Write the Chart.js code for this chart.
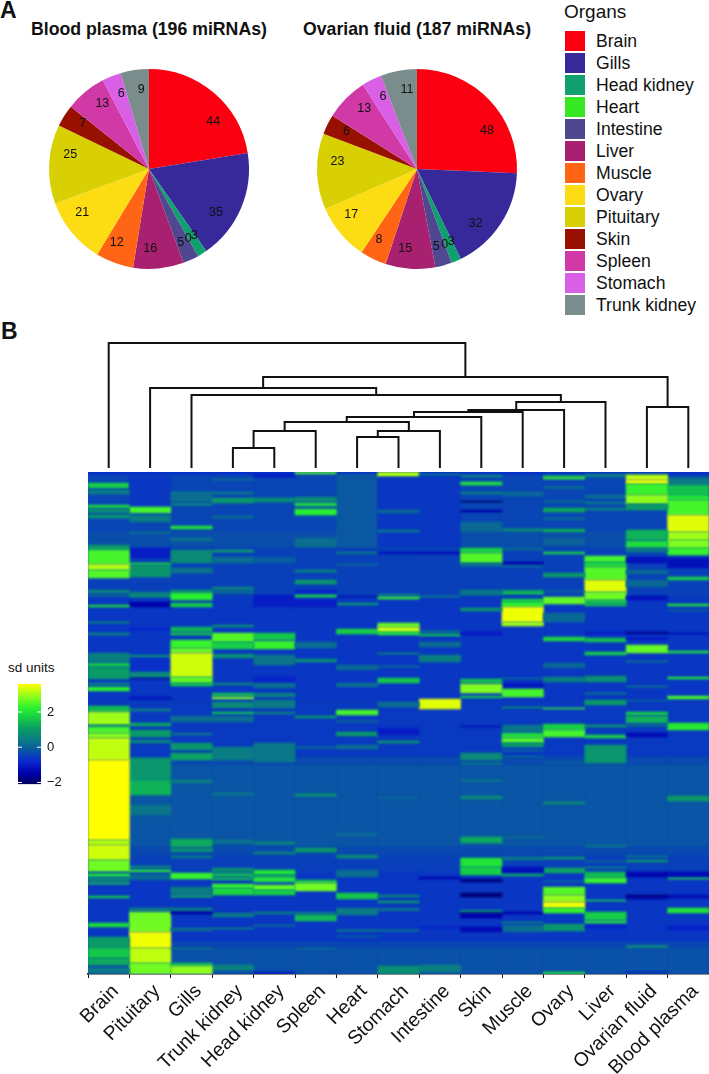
<!DOCTYPE html>
<html>
<head>
<meta charset="utf-8">
<title>miRNA organs</title>
<script src="https://cdn.jsdelivr.net/npm/chart.js@4"></script>
<style>
    html, body { margin: 0; padding: 0; background: #fff; }
    body { position: relative; width: 709px; height: 1074px; overflow: hidden; font-family: "Liberation Sans", Arial, sans-serif; color: #111; }
    canvas { position: absolute; }
    .txt { position: absolute; white-space: nowrap; }
    .panel { font-weight: bold; font-size: 23px; line-height: 23px; }
    .title { font-weight: bold; font-size: 17.7px; line-height: 20px; top: 19px; }
    .swatch { position: absolute; left: 565px; width: 20px; height: 20px; }
    .org { position: absolute; left: 596px; font-size: 17.6px; line-height: 20px; }
</style>
</head>
<body>
<div class="txt panel" style="left:0;top:-1px">A</div>
<div class="txt panel" style="left:1px;top:320px">B</div>
<div class="txt title" style="left:31px">Blood plasma (196 miRNAs)</div>
<div class="txt title" style="left:303px">Ovarian fluid (187 miRNAs)</div>
<div class="txt" style="left:564px;top:1px;font-size:19px;line-height:22px">Organs</div>
<div id="legendBox"></div>
<div class="txt" style="left:8px;top:660px;font-size:13.5px;line-height:16px">sd units</div>

<canvas id="bloodPie" width="210" height="210" style="left:44px;top:64px"></canvas>
<canvas id="ovarianPie" width="210" height="210" style="left:312px;top:64px"></canvas>
<canvas id="treeChart" width="621" height="130" style="left:88px;top:340px"></canvas>
<canvas id="heatChart" width="709" height="602" style="left:0;top:472px"></canvas>
<canvas id="scaleChart" width="90" height="128" style="left:0;top:670px"></canvas>

<script>
// Pie data
const organs = ["Brain", "Gills", "Head kidney", "Heart", "Intestine", "Liver", "Muscle", "Ovary", "Pituitary", "Skin", "Spleen", "Stomach", "Trunk kidney"];
const organColors = ["#fb0010", "#37299a", "#109f6f", "#36e822", "#4f4890", "#a82070", "#ff6515", "#fcdc12", "#d9d003", "#971000", "#d13aa6", "#d95fe6", "#7a8c8c"];
const bloodCounts = [44, 35, 3, 0, 5, 16, 12, 21, 25, 7, 13, 6, 9];
const ovarianCounts = [48, 32, 3, 0, 5, 15, 8, 17, 23, 6, 13, 6, 11];

// Heatmap columns, left to right
const heatLabels = ["Brain", "Pituitary", "Gills", "Trunk kidney", "Head kidney", "Spleen", "Heart", "Stomach", "Intestine", "Skin", "Muscle", "Ovary", "Liver", "Ovarian fluid", "Blood plasma"];

// Dendrogram, hclust style: negative = leaf, positive = earlier merge (1 based)
const mergeLeft = [-4, -7, 1, 2, 3, 5, 6, 7, 8, -3, -2, -14, 11, -1];
const mergeRight = [-5, -8, -6, -9, 4, -10, -11, -12, -13, 9, 10, -15, 12, 13];
const mergeHeights = [20, 31, 37, 37, 46, 51, 56, 58, 66, 73, 80, 61, 91, 125];

// Colour scale
const sdStops = [-2.1, -1.5, -0.8, -0.2, 0.4, 1, 1.6, 2.2, 2.8, 3.6];
const sdColors = [[0, 0, 90], [0, 0, 170], [8, 40, 208], [10, 85, 165], [10, 122, 133], [10, 154, 104], [20, 200, 74], [40, 240, 48], [128, 252, 32], [255, 255, 0]];
const sdTicks = [-2, 0, 2];

// Rows are counted from the top of the heatmap. Each band is [first row, last row, sd]
const rowCount = 502;
const rowBase = [[0, 3, -0.8], [3, 60, -0.42], [60, 76, -0.3], [76, 125, -0.48], [125, 135, -0.6], [135, 230, -0.62], [230, 285, -0.58], [285, 293, -0.36], [293, 375, -0.2], [375, 384, -0.36], [384, 400, -0.5], [400, 470, -0.62], [470, 476, -0.4], [476, 502, -0.25]];

const brainBands = [[11, 16, 1.7], [18, 22, 0.5], [33, 36, 1.9], [36, 41, 0.7], [43, 46, 1.0], [73, 78, 1.0], [78, 92, 2.4], [92, 98, 3.1], [98, 106, 2.5], [118, 121, 0.6], [123, 124, 0.5], [133, 135, 1.8], [150, 151, 1.0], [161, 163, 0.6], [181, 190, 0.5], [191, 195, 1.6], [195, 207, 1.0], [211, 213, 0.7], [215, 219, 2.2], [234, 240, 1.4], [240, 253, 3.0], [253, 255, 0.8], [255, 261, 2.4], [261, 266, 2.8], [266, 288, 3.2], [288, 368, 3.6], [368, 373, 3.1], [373, 388, 3.3], [388, 400, 2.7], [400, 402, 0.3], [402, 405, 2.1], [405, 410, 0.5], [411, 412, 1.9], [424, 426, 1.6], [451, 455, 1.9], [465, 476, 1.0], [476, 486, 1.6], [486, 493, 1.2], [496, 501, 0.4]];
const pituitaryBands = [[3, 35, -0.6], [35, 41, 2.4], [43, 50, 0.4], [60, 61, 0.5], [76, 86, -1.0], [91, 93, 1.8], [93, 105, 0.9], [120, 123, 0.5], [123, 125, 1.0], [130, 135, -1.5], [156, 158, -0.9], [183, 186, 0.6], [186, 200, -0.7], [200, 206, 0.7], [206, 207, -1.6], [225, 227, -1.2], [237, 239, 0.5], [251, 254, 1.2], [258, 265, 1.0], [268, 271, 0.6], [286, 308, 0.9], [308, 323, 1.3], [333, 343, 0.3], [394, 396, 0.7], [398, 400, 2.2], [402, 408, 0.1], [436, 439, 0.5], [440, 460, 2.7], [460, 476, 3.5], [476, 491, 3.2], [491, 502, 2.7]];
const gillsBands = [[20, 22, 0.5], [22, 30, 0.2], [32, 33, 1.2], [54, 57, 2.0], [66, 69, 0.3], [78, 91, 0.7], [96, 101, 0.3], [118, 121, 0.8], [121, 128, 2.2], [131, 135, 1.6], [155, 160, 1.3], [161, 163, 1.7], [168, 176, 2.3], [176, 181, 2.6], [181, 205, 3.3], [205, 211, 2.6], [211, 214, 1.6], [244, 250, 0.2], [261, 263, 0.3], [271, 278, 0.9], [281, 288, 1.1], [308, 311, 0.5], [367, 375, 1.2], [376, 380, 0.8], [384, 386, 0.4], [401, 407, 2.3], [415, 423, 0.4], [424, 425, 1.8], [436, 439, 0.5], [440, 442, -1.6], [456, 459, 0.2], [476, 477, 0.4], [491, 494, 1.5], [494, 502, 2.9]];
const trunkBands = [[7, 8, 0.4], [20, 22, 0.4], [26, 31, 1.0], [44, 46, 0.2], [78, 80, 1.1], [85, 91, 0.2], [115, 118, 0.5], [119, 121, 0.3], [153, 155, 0.8], [161, 170, 2.5], [170, 177, 1.7], [182, 186, 0.8], [211, 213, 0.6], [221, 224, 1.4], [225, 227, 2.8], [230, 236, 0.7], [240, 242, 1.5], [244, 250, 0.2], [275, 288, 0.45], [321, 323, 0.4], [368, 371, 0.3], [396, 400, 0.8], [401, 405, 1.3], [406, 408, 1.5], [412, 416, 2.3], [416, 423, 1.8], [441, 445, 0.4], [456, 457, 0.8], [493, 498, 0.6]];
const headBands = [[2, 5, -1.0], [26, 30, 0.8], [85, 91, -0.1], [123, 135, -1.0], [161, 168, 1.6], [169, 177, 2.3], [183, 193, 0.3], [205, 211, -0.9], [211, 216, 0.2], [221, 225, 0.5], [228, 236, 0.4], [240, 242, 0.5], [271, 290, 0.35], [370, 372, 0.7], [380, 382, 0.6], [398, 403, 2.0], [403, 405, 1.0], [405, 410, 2.0], [413, 418, 2.6], [418, 423, 1.7], [440, 442, 0.5], [453, 454, 0.5], [500, 502, -1.1]];
const spleenBands = [[0, 2, 2.5], [25, 30, 0.7], [31, 34, 1.9], [37, 43, 2.2], [66, 75, 0.2], [98, 100, 0.7], [108, 112, 1.0], [118, 121, -0.9], [123, 125, 1.9], [128, 135, -1.0], [170, 176, 0.2], [187, 190, 0.8], [244, 246, 1.0], [275, 276, 0.5], [322, 324, 1.0], [376, 380, 1.0], [408, 411, 1.6], [411, 419, 2.7], [440, 443, 0.3], [443, 449, 1.4], [476, 477, 0.2]];
const heartBands = [[2, 75, -0.15], [80, 82, 0.3], [92, 93, 0.3], [124, 125, -1.3], [131, 133, 0.9], [157, 162, 1.7], [193, 198, 0.1], [211, 215, 0.2], [238, 243, 2.4], [249, 250, 0.3], [260, 264, 1.0], [273, 277, 0.2], [361, 364, 0.1], [383, 386, 0.8], [398, 405, 0.2], [421, 427, 1.6], [436, 443, 0.4], [458, 459, 0.9], [464, 465, 0.1]];
const stomachBands = [[0, 5, 3.1], [5, 75, -0.6], [38, 41, 0.1], [58, 60, 0.4], [80, 82, -1.2], [122, 124, 0.4], [125, 127, 2.3], [151, 155, 2.6], [155, 160, 3.2], [160, 163, 2.0], [181, 182, 0.8], [194, 195, 0.4], [206, 211, 1.6], [230, 235, 0.2], [256, 263, -1.0], [269, 271, 1.0], [325, 326, 0.2], [423, 425, 0.6], [429, 431, 1.0], [436, 439, 0.2], [458, 459, 0.7], [494, 502, 0.8]];
const intestineBands = [[2, 4, 0.4], [4, 75, -0.6], [80, 82, -1.3], [124, 125, 0.7], [159, 160, 0.8], [162, 164, 1.5], [170, 175, 0.2], [183, 190, 0.5], [227, 237, 3.4], [405, 407, -1.4], [455, 456, -1.0], [493, 500, 0.5]];
const skinBands = [[3, 5, 0.6], [10, 13, 2.0], [20, 22, 0.5], [29, 30, -2.0], [38, 40, -1.5], [50, 60, 0.1], [76, 81, 1.7], [81, 91, 2.5], [91, 94, 0.4], [118, 122, 0.4], [120, 123, 0.3], [136, 139, 0.9], [160, 163, -1.1], [207, 211, 1.5], [212, 221, 2.8], [224, 226, 1.5], [254, 255, -1.3], [281, 288, 0.7], [291, 292, 0.8], [308, 309, 0.6], [324, 327, 0.7], [365, 371, 1.2], [386, 395, 2.0], [395, 403, 1.7], [407, 410, -1.8], [421, 425, -1.9], [438, 441, 0.6], [441, 442, -2.1], [442, 446, -1.5], [455, 460, -1.3]];
const muscleBands = [[20, 24, 0.1], [57, 59, 1.0], [76, 78, 0.2], [90, 92, -1.5], [94, 95, 0.3], [118, 121, 0.8], [120, 122, 1.6], [127, 130, 1.7], [130, 135, 2.2], [135, 150, 3.5], [150, 154, 3.0], [206, 207, 0.2], [211, 216, -1.1], [217, 225, 2.4], [235, 236, 1.0], [253, 260, 0.3], [261, 266, 1.9], [266, 271, 2.5], [271, 275, 1.0], [278, 279, 0.2], [284, 285, 0.2], [365, 366, 0.3], [385, 388, 0.4], [395, 401, -1.2], [402, 404, 1.2], [440, 442, -1.5], [450, 451, 1.0], [453, 460, 0.2]];
const ovaryBands = [[3, 5, 0.6], [5, 7, 2.3], [15, 16, 0.6], [29, 30, 0.5], [36, 40, 1.2], [46, 47, 0.5], [57, 60, 1.2], [66, 73, 0.0], [80, 82, 1.7], [101, 105, 1.0], [119, 120, 0.2], [125, 132, 2.6], [141, 150, 0.1], [165, 169, 1.8], [191, 196, 0.1], [205, 210, 0.5], [236, 237, 2.3], [252, 258, 1.7], [258, 265, 2.4], [290, 291, 0.2], [330, 332, 0.8], [385, 387, 1.0], [396, 401, 1.1], [409, 410, 0.3], [415, 423, 2.5], [423, 430, 2.9], [430, 436, 3.5], [436, 441, 2.3], [452, 459, 0.9], [500, 502, 1.9]];
const liverBands = [[2, 5, 0.5], [23, 26, 0.2], [30, 32, 0.4], [36, 38, 0.6], [84, 90, 2.4], [90, 95, 1.8], [95, 108, 2.5], [108, 120, 3.4], [120, 128, 2.7], [128, 131, 1.8], [131, 134, 1.4], [160, 162, -1.0], [166, 170, 1.5], [180, 183, 1.7], [204, 210, 0.8], [221, 222, 0.7], [228, 233, 1.0], [253, 255, 1.0], [263, 266, 1.8], [273, 291, 0.9], [373, 375, 0.3], [389, 390, 0.2], [395, 396, 0.7], [400, 406, 1.4], [406, 411, 2.3], [428, 429, 1.8], [440, 448, 1.7], [449, 451, 2.2], [454, 456, -1.0]];
const ovarianBands = [[2, 3, 0.6], [3, 8, 3.2], [8, 12, 3.5], [12, 23, 2.3], [23, 32, 2.9], [32, 38, 1.0], [58, 68, 1.3], [69, 76, 1.9], [76, 80, 0.4], [85, 91, -1.2], [98, 102, 0.1], [108, 115, 0.1], [124, 128, -1.2], [160, 162, -1.7], [165, 168, -1.0], [173, 181, 2.6], [189, 190, 0.5], [214, 215, 0.5], [228, 229, 0.2], [240, 243, 1.7], [244, 251, 1.3], [253, 254, 0.7], [261, 265, -1.3], [384, 385, 0.6], [388, 390, 0.9], [400, 405, -1.4], [423, 426, -1.8], [426, 427, -1.4], [474, 475, 1.5], [500, 501, -1.0]];
const plasmaBands = [[6, 13, 0.4], [13, 23, 1.5], [23, 28, 2.0], [28, 43, 2.4], [43, 60, 3.4], [60, 68, 3.0], [68, 76, 2.8], [76, 83, 2.3], [86, 96, -1.2], [105, 108, 1.7], [132, 134, 2.0], [138, 139, 0.1], [161, 162, -1.4], [179, 181, 2.0], [205, 207, 2.0], [224, 227, 2.4], [251, 258, 2.1], [324, 329, 1.0], [400, 405, -1.3], [406, 407, 2.0], [423, 426, -1.3], [436, 441, 2.0], [454, 458, -1.0]];

const heatColumns = [brainBands, pituitaryBands, gillsBands, trunkBands, headBands, spleenBands, heartBands, stomachBands, intestineBands, skinBands, muscleBands, ovaryBands, liverBands, ovarianBands, plasmaBands];

/**
 * SD VALUE TO COLOUR
 */
function sdColor(v) {
    let i = 0;
    while (i < sdStops.length - 2 && v > sdStops[i + 1]) i++;
    const t = Math.min(1, Math.max(0, (v - sdStops[i]) / (sdStops[i + 1] - sdStops[i])));
    const c = sdColors[i].map((a, k) => Math.round(a + (sdColors[i + 1][k] - a) * t));
    return `rgb(${c[0]},${c[1]},${c[2]})`;
}

// Writes the count on each slice. In the source they sit past the middle of the slice,
// and a label just before an empty slice sits near its start so the two do not collide
const sliceCounts = {
    id: "sliceCounts",
    afterDatasetsDraw(chart) {
        const ctx = chart.ctx;
        const counts = chart.data.datasets[0].data;
        ctx.save();
        ctx.font = "12.5px 'Liberation Sans'";
        ctx.fillStyle = "#111";
        ctx.textAlign = "center";
        ctx.textBaseline = "middle";
        chart.getDatasetMeta(0).data.forEach((arc, i) => {
            const part = counts[i + 1] === 0 ? 0.1 : 0.66;
            const angle = arc.startAngle + (arc.endAngle - arc.startAngle) * part;
            const r = arc.outerRadius * 0.8;
            ctx.fillText(String(counts[i]), arc.x + Math.cos(angle) * r, arc.y + Math.sin(angle) * r);
        });
        ctx.restore();
    }
};

function makePie(id, counts) {
    new Chart(document.getElementById(id), {
        type: "pie",
        data: { labels: organs, datasets: [{ data: counts, backgroundColor: organColors, borderWidth: 0 }] },
        options: {
            responsive: false,
            animation: false,
            layout: { padding: 5 },
            plugins: { legend: { display: false }, tooltip: { enabled: false } }
        },
        plugins: [sliceCounts]
    });
}

function makeLegend() {
    const box = document.getElementById("legendBox");
    box.innerHTML = organs.map((name, i) => {
        const top = 31 + i * 22;
        return `<div class="swatch" style="top:${top}px;background:${organColors[i]}"></div>
                <div class="org" style="top:${top}px">${name}</div>`;
    }).join("");
}

/**
 * DENDROGRAM
 */
function makeTree() {
    const xs = [];
    const hs = [];
    const nodeX = ref => ref < 0 ? -ref - 1 : xs[ref - 1];
    const nodeH = ref => ref < 0 ? 0 : hs[ref - 1];
    const datasets = mergeHeights.map((h, i) => {
        const l = mergeLeft[i], r = mergeRight[i];
        xs.push((nodeX(l) + nodeX(r)) / 2);
        hs.push(h);
        return {
            data: [{ x: nodeX(l), y: nodeH(l) }, { x: nodeX(l), y: h }, { x: nodeX(r), y: h }, { x: nodeX(r), y: nodeH(r) }],
            showLine: true,
            borderColor: "#111",
            borderWidth: 2,
            pointRadius: 0,
            tension: 0
        };
    });
    new Chart(document.getElementById("treeChart"), {
        type: "scatter",
        data: { datasets },
        options: {
            responsive: false,
            animation: false,
            plugins: { legend: { display: false }, tooltip: { enabled: false } },
            scales: {
                x: { type: "linear", min: -0.5, max: 14.5, display: false },
                y: { type: "linear", min: -2, max: 128, display: false }
            }
        }
    });
}

// Backdrop under the cells and a slight softening, the source is a scaled raster
const softCells = {
    id: "softCells",
    beforeDatasetsDraw(chart) {
        const { ctx, chartArea: a } = chart;
        ctx.save();
        ctx.fillStyle = sdColor(-0.4);
        ctx.fillRect(a.left, a.top, a.width, a.height);
        ctx.restore();
        ctx.filter = "blur(1px)";
    },
    afterDatasetsDraw(chart) {
        chart.ctx.filter = "none";
    }
};

/**
 * HEATMAP: one layer of floating bars per band slot
 */
function makeHeat() {
    const columns = heatColumns.map(bands => rowBase.concat(bands));
    const slots = Math.max(...columns.map(c => c.length));
    const datasets = [];
    for (let k = 0; k < slots; k++) {
        datasets.push({
            data: columns.map(c => c[k] ? [c[k][0], c[k][1]] : null),
            backgroundColor: columns.map(c => c[k] ? sdColor(c[k][2]) : "transparent"),
            borderWidth: 0,
            barPercentage: 1,
            categoryPercentage: 1,
            grouped: false,
            order: -k
        });
    }
    new Chart(document.getElementById("heatChart"), {
        type: "bar",
        data: { labels: heatLabels, datasets },
        options: {
            responsive: false,
            animation: false,
            layout: { padding: { left: 88 } },
            plugins: { legend: { display: false }, tooltip: { enabled: false } },
            scales: {
                x: {
                    grid: { drawOnChartArea: false, drawTicks: true, tickLength: 4, color: "#111" },
                    border: { color: "#111", width: 1.5 },
                    ticks: { autoSkip: false, minRotation: 45, maxRotation: 45, labelOffset: 7, color: "#111", padding: 2, font: { family: "Liberation Sans", size: 19.4 } },
                    afterFit(s) { s.height = 100; s.paddingLeft = 0; s.paddingRight = 0; }
                },
                y: { min: 0, max: rowCount, reverse: true, display: false }
            }
        },
        plugins: [softCells]
    });
}

// White marks across the colour bar at the labelled values
const scaleMarks = {
    id: "scaleMarks",
    afterDatasetsDraw(chart) {
        const { ctx, chartArea: a, scales } = chart;
        ctx.save();
        ctx.strokeStyle = "#fff";
        ctx.lineWidth = 1;
        sdTicks.forEach(v => {
            const y = scales.y.getPixelForValue(v);
            ctx.beginPath();
            ctx.moveTo(a.left, y); ctx.lineTo(a.left + 4, y);
            ctx.moveTo(a.right - 4, y); ctx.lineTo(a.right, y);
            ctx.stroke();
        });
        ctx.restore();
    }
};

function makeScale() {
    const lo = sdStops[0], hi = sdStops[sdStops.length - 1];
    new Chart(document.getElementById("scaleChart"), {
        type: "bar",
        data: {
            labels: ["sd units"],
            datasets: [{
                data: [[lo, hi]],
                barPercentage: 1,
                categoryPercentage: 1,
                borderWidth: 0,
                backgroundColor(c) {
                    const a = c.chart.chartArea;
                    if (!a) return "#000";
                    const g = c.chart.ctx.createLinearGradient(0, a.bottom, 0, a.top);
                    sdStops.forEach(s => g.addColorStop((s - lo) / (hi - lo), sdColor(s)));
                    return g;
                }
            }]
        },
        options: {
            responsive: false,
            animation: false,
            layout: { padding: { left: 18, top: 9, bottom: 9 } },
            plugins: { legend: { display: false }, tooltip: { enabled: false } },
            scales: {
                x: { display: false },
                y: {
                    position: "right",
                    min: lo,
                    max: hi,
                    grid: { display: false, drawTicks: false },
                    border: { display: false },
                    afterBuildTicks(s) { s.ticks = sdTicks.map(value => ({ value })); },
                    afterFit(s) { s.width = 49; },
                    ticks: {
                        color: "#111",
                        padding: 6,
                        font: { family: "Liberation Sans", size: 13 },
                        callback: v => String(v).replace("-", "\u2212")
                    }
                }
            }
        },
        plugins: [scaleMarks]
    });
}

makePie("bloodPie", bloodCounts);
makePie("ovarianPie", ovarianCounts);
makeLegend();
makeTree();
makeHeat();
makeScale();
</script>
</body>
</html>
